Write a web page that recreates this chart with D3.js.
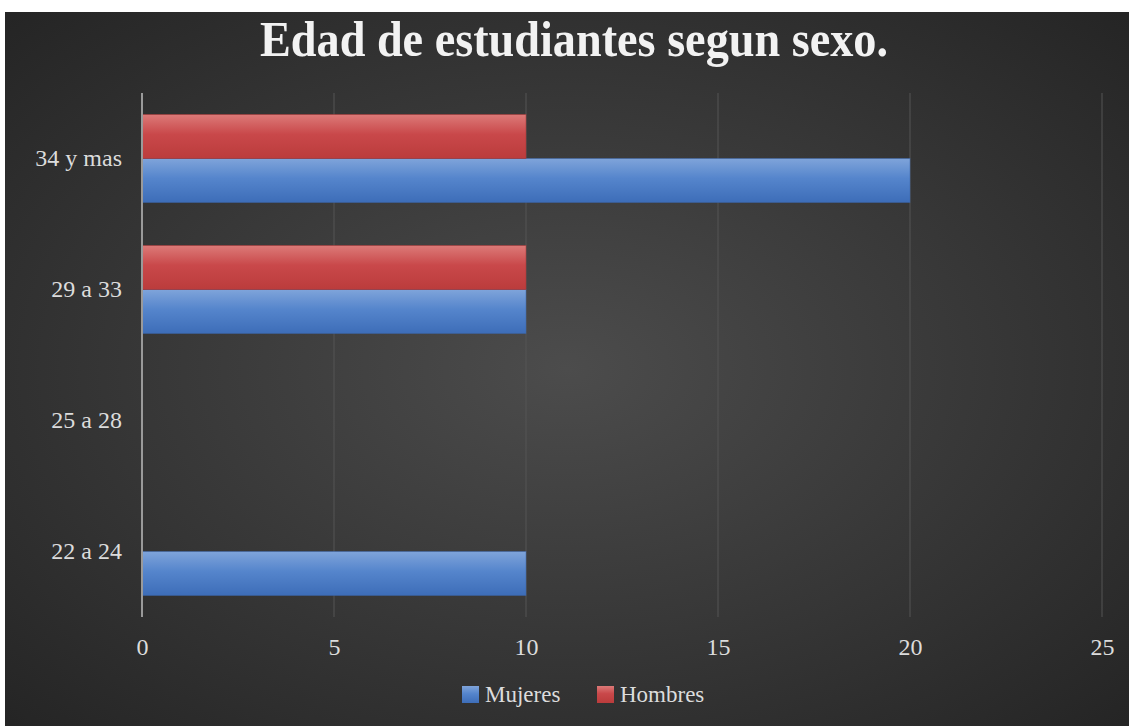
<!DOCTYPE html>
<html><head><meta charset="utf-8">
<script src="https://cdn.jsdelivr.net/npm/d3@7/dist/d3.min.js"></script>
<style>html,body{margin:0;padding:0;background:#fff;}svg{display:block;}</style>
</head><body>
<script>
const categories = ["22 a 24", "25 a 28", "29 a 33", "34 y mas"];
const seriesNames = ["Mujeres", "Hombres"];
const mujeres = [10, 0, 10, 20];
const hombres = [0, 0, 10, 10];
const xTicks = [0, 5, 10, 15, 20, 25];
const title = "Edad de estudiantes segun sexo.";

const W = 1129, H = 726;
const svg = d3.select("body").append("svg").attr("width", W).attr("height", H);
const defs = svg.append("defs");

const bg = defs.append("radialGradient").attr("id","bg").attr("cx","50%").attr("cy","50%").attr("r","70%");
bg.append("stop").attr("offset","0%").attr("stop-color","#4c4c4c");
bg.append("stop").attr("offset","100%").attr("stop-color","#252525");

function barGrad(id, top, mid, bot){
  const g = defs.append("linearGradient").attr("id",id).attr("x1",0).attr("y1",0).attr("x2",0).attr("y2",1);
  g.append("stop").attr("offset","0%").attr("stop-color",top);
  g.append("stop").attr("offset","45%").attr("stop-color",mid);
  g.append("stop").attr("offset","100%").attr("stop-color",bot);
}
barGrad("gBlue", "#7fa4da", "#5585cc", "#3d6db8");
barGrad("gRed", "#dc7a78", "#c9484a", "#bb3c3c");

svg.append("rect").attr("x",5).attr("y",12).attr("width",W-5).attr("height",H-12).attr("fill","url(#bg)");

const font = "'Liberation Serif', 'DejaVu Serif', serif";

svg.append("text").attr("x", 574).attr("y", 56).attr("text-anchor","middle")
  .attr("font-family", font).attr("font-weight","bold").attr("font-size", 50)
  .attr("fill","#f2f2f2").attr("textLength", 628).attr("lengthAdjust","spacingAndGlyphs")
  .text(title);

const x = d3.scaleLinear().domain([0, 25]).range([142, 1102]);
const y = d3.scaleBand().domain(categories.slice().reverse()).range([93, 617]).paddingInner(0).paddingOuter(0);
const bandH = y.bandwidth();
const barH = 44;

// grid
svg.append("g").selectAll("line").data(xTicks.filter(d=>d>0)).join("line")
  .attr("x1", d=>x(d)).attr("x2", d=>x(d)).attr("y1", 93).attr("y2", 617)
  .attr("stroke","#555555").attr("stroke-width",1);

// bars
const data = [];
categories.forEach((c,i)=>{
  data.push({cat:c, s:"Mujeres", v:mujeres[i]});
  data.push({cat:c, s:"Hombres", v:hombres[i]});
});
const bars = svg.append("g").selectAll("g").data(data.filter(d=>d.v>0)).join("g");
bars.append("rect")
  .attr("x", x(0))
  .attr("y", d => y(d.cat) + bandH/2 + (d.s==="Mujeres" ? 0 : -barH))
  .attr("width", d => x(d.v) - x(0))
  .attr("height", barH)
  .attr("fill", d => d.s==="Mujeres" ? "url(#gBlue)" : "url(#gRed)")
  .attr("stroke", d => d.s==="Mujeres" ? "#3a64a8" : "#a83434").attr("stroke-width",0.8).attr("stroke-opacity",0.6);

// axis line
svg.append("line").attr("x1", x(0)).attr("x2", x(0)).attr("y1", 93).attr("y2", 617)
  .attr("stroke","#9a9a9a").attr("stroke-width",2);

// x tick labels
const xAxis = d3.axisBottom(x).tickValues(xTicks).tickSize(0).tickPadding(0);
const gx = svg.append("g").attr("transform","translate(0,638)").call(xAxis);
gx.select(".domain").remove();
gx.selectAll("text").attr("font-family", font).attr("font-size", 24).attr("fill","#dcdcdc").attr("dy","0.71em");

// y labels
const yAxis = d3.axisLeft(y).tickSize(0).tickPadding(0);
const gy = svg.append("g").attr("transform","translate(122,0)").call(yAxis);
gy.select(".domain").remove();
gy.selectAll("text").attr("font-family", font).attr("font-size", 24).attr("fill","#dcdcdc").attr("dy","0.32em");

// legend
const leg = [{n:seriesNames[0], f:"url(#gBlue)", x:462}, {n:seriesNames[1], f:"url(#gRed)", x:597}];
const lg = svg.append("g").selectAll("g").data(leg).join("g").attr("transform", d=>`translate(${d.x},686)`);
lg.append("rect").attr("width",17).attr("height",17).attr("fill", d=>d.f);
lg.append("text").attr("x",23).attr("y",16).attr("font-family", font).attr("font-size",23)
  .attr("fill","#dcdcdc").text(d=>d.n);
</script>
</body></html>
